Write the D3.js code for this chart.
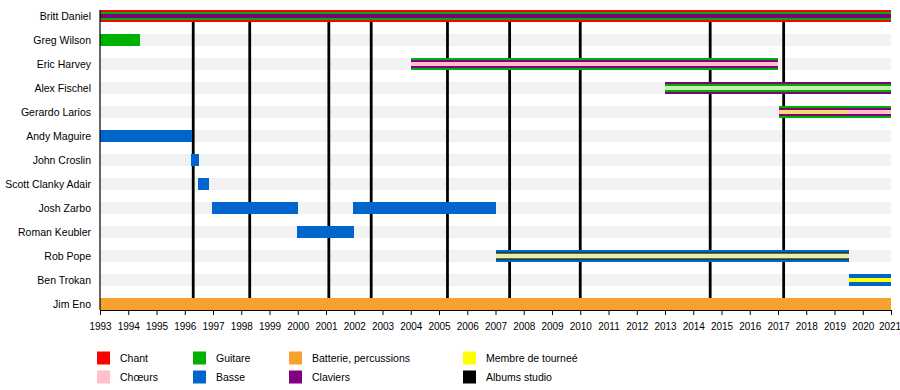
<!DOCTYPE html>
<html><head><meta charset="utf-8">
<script src="https://cdn.jsdelivr.net/npm/d3@7"></script>
<style>body{margin:0;background:#fff}svg{display:block;font-family:"Liberation Sans",Arial,sans-serif}</style>
</head><body><svg id="c" width="900" height="390"></svg>
<script>
const members = ["Britt Daniel","Greg Wilson","Eric Harvey","Alex Fischel","Gerardo Larios","Andy Maguire","John Croslin","Scott Clanky Adair","Josh Zarbo","Roman Keubler","Rob Pope","Ben Trokan","Jim Eno"];
const yearTicks = d3.range(1993, 2022);
const albums = [1996.3, 1998.3, 2001.1, 2002.6, 2005.3, 2007.5, 2010.0, 2014.6, 2017.2];
const stints = [
  {member:"Britt Daniel", start:1993, end:2021, layers:["Chant","Guitare","Claviers"]},
  {member:"Greg Wilson", start:1993, end:1994.42, layers:["Guitare"]},
  {member:"Eric Harvey", start:2004.0, end:2017.0, layers:["Guitare","Claviers","Chœurs"]},
  {member:"Alex Fischel", start:2013.0, end:2021, layers:["Claviers","Guitare","GuitareClair"]},
  {member:"Gerardo Larios", start:2017.05, end:2019.45, layers:["Guitare","Claviers","Tournee"]},
  {member:"Gerardo Larios", start:2019.45, end:2021, layers:["Guitare","Claviers","Chœurs"]},
  {member:"Andy Maguire", start:1993, end:1996.26, layers:["Basse"]},
  {member:"John Croslin", start:1996.22, end:1996.5, layers:["Basse"]},
  {member:"Scott Clanky Adair", start:1996.47, end:1996.86, layers:["Basse"]},
  {member:"Josh Zarbo", start:1996.96, end:2000.0, layers:["Basse"]},
  {member:"Josh Zarbo", start:2001.97, end:2007.03, layers:["Basse"]},
  {member:"Roman Keubler", start:1999.97, end:2002.0, layers:["Basse"]},
  {member:"Rob Pope", start:2007.0, end:2019.5, layers:["Basse","Claviers","Guitare","TourneeClair"]},
  {member:"Ben Trokan", start:2019.5, end:2021, layers:["Basse","Basse","Membre de tourneé"]},
  {member:"Jim Eno", start:1993, end:2021, layers:["Batterie, percussions"]}
];
const legendItems = ["Chant","Chœurs","Guitare","Basse","Batterie, percussions","Claviers","Membre de tourneé","Albums studio"];
const colors = {
  "Chant":"#ff0000","Chœurs":"#ffc0cb","Guitare":"#00b000","Basse":"#0066cc",
  "Batterie, percussions":"#f7a12e","Claviers":"#800080","Membre de tourneé":"#ffff00",
  "Albums studio":"#000000","GuitareClair":"#cdeeb0","Tournee":"#ffd966","TourneeClair":"#e4f0b0"
};

const svg = d3.select("#c");
const x = d3.scaleLinear().domain([1993, 2021]).range([100, 891]);
const y = d3.scalePoint().domain(members).range([16, 304]);
const barH = 12;
const layerH = {1:[12],2:[12,6],3:[12,8,4],4:[12,8,6,4]};

// stripes
svg.append("g").selectAll("rect").data(members).join("rect")
  .attr("x", x(1993)).attr("width", x(2021)-x(1993))
  .attr("y", d => y(d)-barH/2).attr("height", barH).attr("fill", "#f2f2f2");

// album lines
svg.append("g").selectAll("line").data(albums).join("line")
  .attr("x1", d => x(d)).attr("x2", d => x(d))
  .attr("y1", y(members[0])).attr("y2", y(members[members.length-1]))
  .attr("stroke", "#000").attr("stroke-width", 2.8);

// bars
const bars = svg.append("g").attr("shape-rendering", "crispEdges");
stints.forEach(s => {
  const hs = layerH[s.layers.length];
  s.layers.forEach((l, i) => {
    bars.append("rect")
      .attr("x", x(s.start)).attr("width", x(s.end)-x(s.start))
      .attr("y", y(s.member)-hs[i]/2).attr("height", hs[i])
      .attr("fill", colors[l]);
  });
});

// axes
const xAxis = d3.axisBottom(x).tickValues(yearTicks).tickFormat(d3.format("d")).tickSize(5).tickSizeOuter(0);
const gx = svg.append("g").attr("transform", `translate(0,${y(members[members.length-1])+barH/2})`).call(xAxis);
gx.select(".domain").attr("stroke", "#000");
gx.selectAll("text").attr("font-size", 10).attr("fill", "#000").attr("dy", "1.15em")
  .attr("font-family", '"Liberation Sans",Arial,sans-serif')
  .attr("dx", d => d === 2021 ? -1.5 : 0);

svg.append("line").attr("x1", x(1993)).attr("x2", x(1993))
  .attr("y1", y(members[0])-barH/2).attr("y2", y(members[members.length-1])+barH/2)
  .attr("stroke", "#000").attr("stroke-width", 1.2);

svg.append("g").selectAll("text").data(members).join("text")
  .attr("x", 91).attr("y", d => y(d)).attr("dy", "0.35em")
  .attr("text-anchor", "end").attr("font-size", 10.5).text(d => d);

// legend
const legCols = [97, 193, 289, 463];
const legRows = [358, 377];
const lg = svg.append("g").selectAll("g").data(legendItems).join("g")
  .attr("transform", (d, i) => `translate(${legCols[Math.floor(i/2)]},${legRows[i%2]})`);
lg.append("rect").attr("x", 0).attr("y", -6.5).attr("width", 13).attr("height", 13).attr("fill", d => colors[d]);
lg.append("text").attr("x", 23).attr("dy", "0.35em").attr("font-size", 10.5).text(d => d);
</script></body></html>
